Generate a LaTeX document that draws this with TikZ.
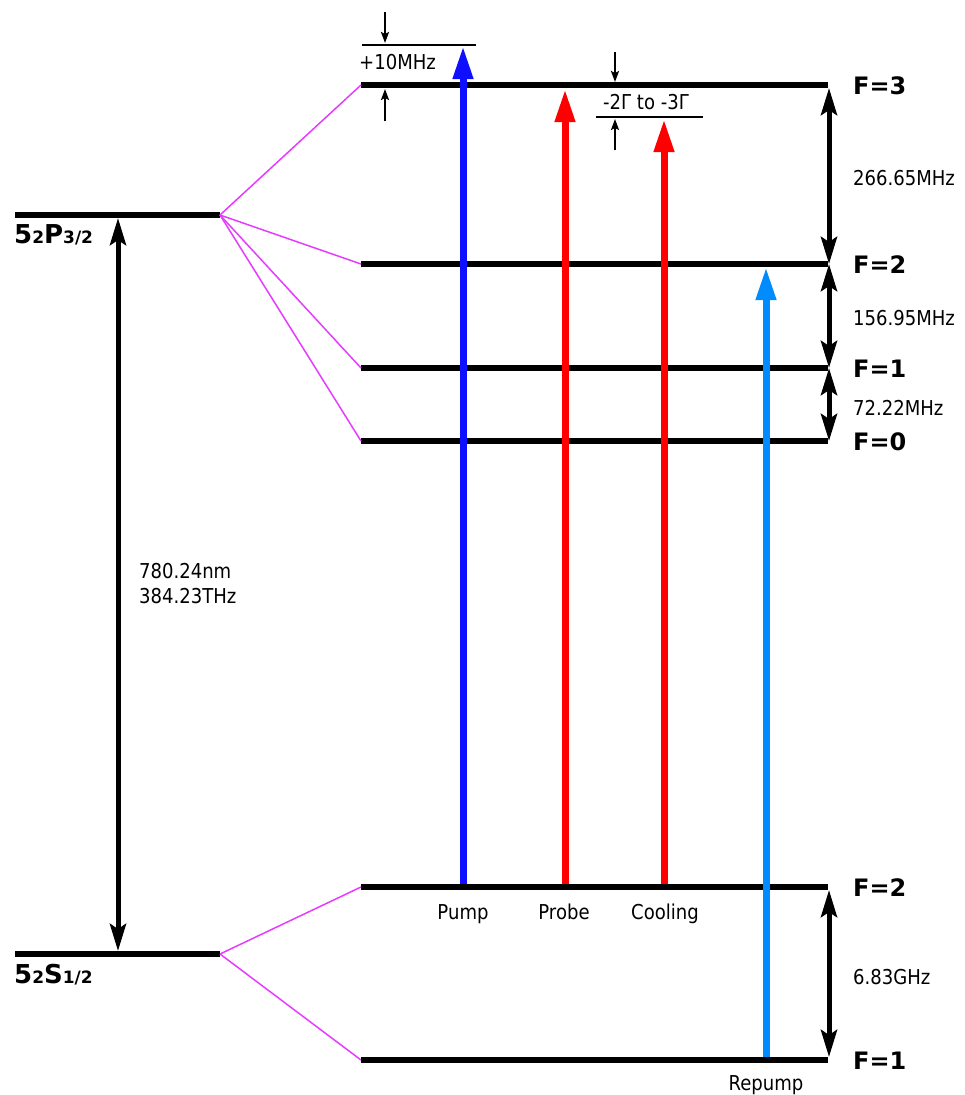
\documentclass[tikz,border=0pt]{standalone}
\usepackage{fontspec}
\setmainfont{DejaVu Sans}
\newfontfamily\nf{DejaVu Sans}[FakeStretch=0.88]
\usetikzlibrary{arrows.meta}
\definecolor{mag}{RGB}{230,60,255}
\definecolor{pumpblue}{RGB}{15,15,255}
\definecolor{probered}{RGB}{255,0,0}
\definecolor{repblue}{RGB}{0,140,255}
\begin{document}
\begin{tikzpicture}[x=1pt,y=-1pt,
 level/.style={line width=6.5pt},
 split/.style={mag, line width=1.5pt},
 beam/.style={line width=7pt, -{Triangle[length=33pt,width=19pt]}},
 gap/.style={line width=5pt, {Stealth[length=27pt,width=16pt,inset=5pt]}-{Stealth[length=27pt,width=16pt,inset=5pt]}},
 ticka/.style={line width=2pt, -{Stealth[length=11pt,width=8pt,inset=2pt]}},
 marker/.style={line width=2.5pt},
 txt/.style={inner sep=0pt, anchor=base west, font=\nf\fontsize{20.5}{24}\selectfont},
 ctxt/.style={txt, anchor=base},
 flab/.style={inner sep=0pt, anchor=base west, font=\bfseries\fontsize{24}{28}\selectfont},
 slab/.style={inner sep=0pt, anchor=base west, font=\bfseries\fontsize{26}{30}\selectfont},
]
\useasboundingbox (0,0) rectangle (964,1095);
% fine structure levels
\coordinate (PL) at (15,215); \coordinate (PR) at (220,215);
\coordinate (SL) at (15,954); \coordinate (SR) at (220,954);
% hyperfine levels
\coordinate (e3L) at (361,85);  \coordinate (e3R) at (828,85);
\coordinate (e2L) at (361,264); \coordinate (e2R) at (828,264);
\coordinate (e1L) at (361,368); \coordinate (e1R) at (828,368);
\coordinate (e0L) at (361,441); \coordinate (e0R) at (828,441);
\coordinate (g2L) at (361,887); \coordinate (g2R) at (828,887);
\coordinate (g1L) at (361,1060); \coordinate (g1R) at (828,1060);

\foreach \a/\b in {PL/PR,SL/SR,e3L/e3R,e2L/e2R,e1L/e1R,e0L/e0R,g2L/g2R,g1L/g1R}
  \draw[level] (\a) -- (\b);

\foreach \t in {e3L,e2L,e1L,e0L} \draw[split] (PR) -- (\t);
\foreach \t in {g2L,g1L} \draw[split] (SR) -- (\t);

% labels of fine structure levels
\node[slab] (Plab) at (14,243) {5{\fontsize{17}{20}\selectfont 2}P{\fontsize{17}{20}\selectfont 3/2}};
\node[slab] (Slab) at (14,983) {5{\fontsize{17}{20}\selectfont 2}S{\fontsize{17}{20}\selectfont 1/2}};

% optical transition
\coordinate (optT) at (118,218); \coordinate (optB) at (118,951);
\draw[gap] (optT) -- (optB);
\node[txt] (wl) at (139,578) {780.24nm};
\node[txt] (fr) at (139,603) {384.23THz};

% hyperfine splittings
\coordinate (h3) at (829,88); \coordinate (h2) at (829,264);
\coordinate (h1) at (829,368); \coordinate (h0) at (829,441);
\coordinate (hg2) at (829,890); \coordinate (hg1) at (829,1057);
\draw[gap] (h3) -- (h2);
\draw[gap] (h2) -- (h1);
\draw[gap] (h1) -- (h0);
\draw[gap] (hg2) -- (hg1);
\node[txt] (d32) at (853,185) {266.65MHz};
\node[txt] (d21) at (853,325) {156.95MHz};
\node[txt] (d10) at (853,415) {72.22MHz};
\node[txt] (dg) at (853,984) {6.83GHz};

\node[flab] (F3) at (853,94) {F=3};
\node[flab] (F2) at (853,273) {F=2};
\node[flab] (F1) at (853,377) {F=1};
\node[flab] (F0) at (853,450) {F=0};
\node[flab] (G2) at (853,896) {F=2};
\node[flab] (G1) at (853,1069) {F=1};

% detuning markers
\coordinate (m1L) at (362,45); \coordinate (m1R) at (476,45);
\coordinate (m2L) at (596,117); \coordinate (m2R) at (703,117);
\draw[marker] (m1L) -- (m1R);
\draw[marker] (m2L) -- (m2R);
\coordinate (t1a) at (385,12);  \coordinate (t1b) at (385,43);
\coordinate (t1c) at (385,121); \coordinate (t1d) at (385,89);
\coordinate (t2a) at (615,52);  \coordinate (t2b) at (615,82);
\coordinate (t2c) at (615,150); \coordinate (t2d) at (615,119);
\draw[ticka] (t1a) -- (t1b);
\draw[ticka] (t1c) -- (t1d);
\draw[ticka] (t2a) -- (t2b);
\draw[ticka] (t2c) -- (t2d);
\node[txt] (tenM) at (359,69) {+10MHz};
\node[txt] (gam) at (603,109) {-2\symbol{"0393} to -3\symbol{"0393}};

% laser beams
\coordinate (pumpB) at (463,884); \coordinate (pumpT) at (463,46);
\coordinate (probB) at (565,884); \coordinate (probT) at (565,89);
\coordinate (coolB) at (664,884); \coordinate (coolT) at (664,119);
\coordinate (repB) at (766,1057); \coordinate (repT) at (766,267);
\draw[beam, pumpblue] (pumpB) -- (pumpT);
\draw[beam, probered] (probB) -- (probT);
\draw[beam, probered] (coolB) -- (coolT);
\draw[beam, repblue] (repB) -- (repT);
\node[ctxt] (pumpL) at (463,919) {Pump};
\node[ctxt] (probL) at (564,919) {Probe};
\node[ctxt] (coolL) at (665,919) {Cooling};
\node[ctxt] (repL) at (766,1090) {Repump};
\end{tikzpicture}
\end{document}
